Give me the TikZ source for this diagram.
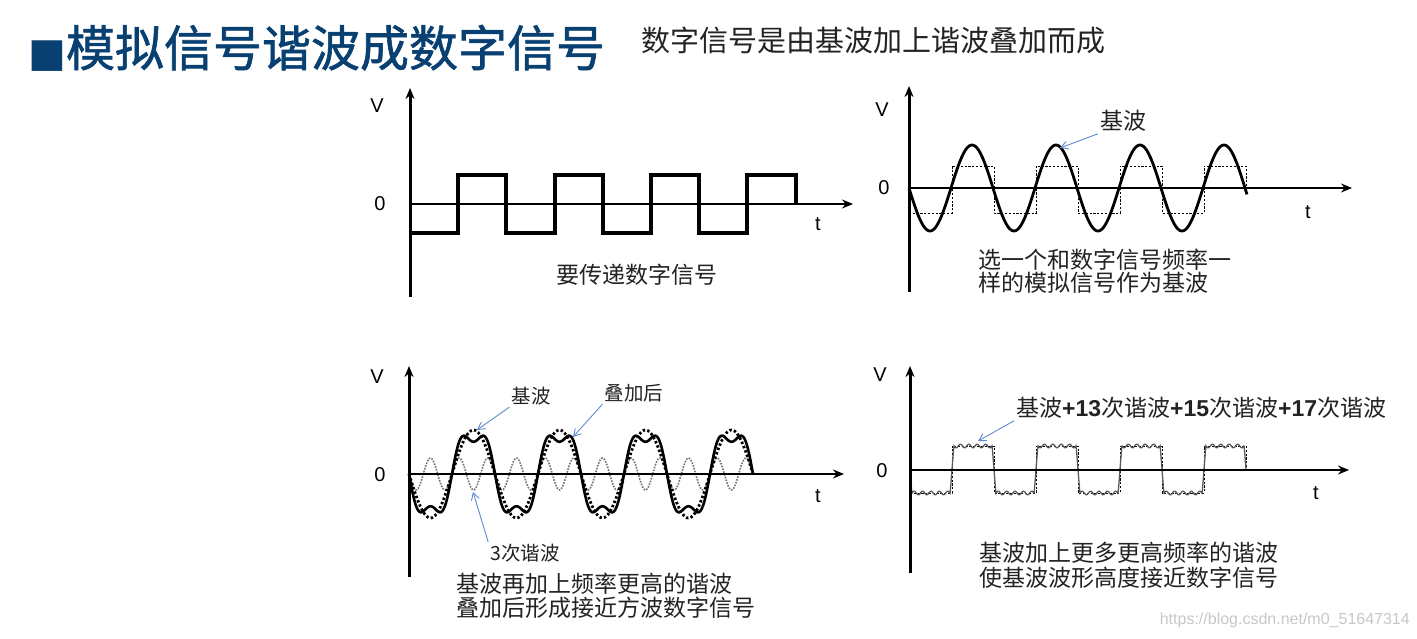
\documentclass[tikz,border=0pt]{standalone}
\usepackage{fontspec}
\setmainfont{Liberation Sans}
\newfontfamily\cjk{Noto Sans CJK SC}
\newfontfamily\cjkb[FakeBold=1.2]{Noto Sans CJK SC}
\newfontfamily\dvs{DejaVu Sans}
\usetikzlibrary{arrows.meta}
\definecolor{titleblue}{RGB}{8,64,114}
\definecolor{arrblue}{RGB}{95,140,205}
\definecolor{wmgray}{RGB}{200,200,200}
\definecolor{txt}{RGB}{35,35,35}
\newcommand\fsz[1]{\fontsize{#1}{#1}\selectfont}
\begin{document}
\begin{tikzpicture}[x=1pt,y=-1pt,
  axisline/.style={line width=3pt,-{Stealth[length=11pt,width=9pt]}},
  lbl/.style={font=\fsz{20},inner sep=0pt,text=black},
  captxt/.style={font=\cjk\fsz{23},inner sep=0pt,anchor=west,text=txt},
  callout/.style={font=\cjk\fsz{19.5},inner sep=2pt,text=txt},
  arr/.style={draw=arrblue,line width=0.9pt,-{Straight Barb[length=7pt,width=8pt]}},
  sqwave/.style={line width=3.4pt,line join=miter},
  sinewave/.style={line width=2.8pt},
  dsq/.style={line width=0.9pt,dash pattern=on 2.2pt off 1.6pt},
  fundwave/.style={line width=2.8pt,dash pattern=on 2.4pt off 2.2pt},
  harmwave/.style={line width=1.6pt,draw=black!55,dash pattern=on 1.6pt off 1.3pt},
  combwave/.style={line width=2.6pt},
  ripwave/.style={line width=1.3pt,draw=black!65}
]
\useasboundingbox (0,0) rectangle (1417,639);
\fill[white] (0,0) rectangle (1417,639);

% title
\node[anchor=west,inner sep=0pt,text=titleblue] (title) at (28,48)
  {{\dvs\fsz{40}■}{\cjkb\fsz{49}模拟信号谐波成数字信号}};
\node[anchor=west,inner sep=0pt,font=\cjk\fsz{29},text=txt] (subtitle) at (641,40)
  {数字信号是由基波加上谐波叠加而成};

% ---------- panel 1 ----------
\coordinate (p1o) at (410,297);
\coordinate (p1v) at (410,88);
\coordinate (p1a) at (410,204);
\coordinate (p1t) at (853,204);
\draw[axisline] (p1o) -- (p1v);
\draw[axisline,line width=2.6pt] (p1a) -- (p1t);
\node[lbl] (p1V) at (377,106) {V};
\node[lbl] (p1z) at (380,204) {0};
\node[lbl] (p1tl) at (818,224) {t};
\draw[sqwave] (410,233) -- (458,233) -- (458,175) -- (506,175) -- (506,233)
  -- (555,233) -- (555,175) -- (603,175) -- (603,233) -- (651,233) -- (651,175)
  -- (699,175) -- (699,233) -- (747,233) -- (747,175) -- (796,175) -- (796,204);
\node[captxt,anchor=center] (cap1) at (637,275) {要传递数字信号};

% ---------- panel 2 ----------
\coordinate (p2o) at (909,292);
\coordinate (p2v) at (909,86);
\coordinate (p2a) at (909,188);
\coordinate (p2t) at (1352,188);
\draw[dsq] (909,213) -- (952,213) -- (952,166) -- (994,166) -- (994,213)
  -- (1036,213) -- (1036,166) -- (1078,166) -- (1078,213) -- (1120,213)
  -- (1120,166) -- (1162,166) -- (1162,213) -- (1204,213) -- (1204,166)
  -- (1246,166) -- (1246,188);
\draw[sinewave] plot[domain=909:1247,samples=220,smooth] (\x,{188+43*sin(360*((\x-909)/84))});
\draw[axisline] (p2o) -- (p2v);
\draw[axisline,line width=2.6pt] (p2a) -- (p2t);
\node[lbl] (p2V) at (882,110) {V};
\node[lbl] (p2z) at (884,188) {0};
\node[lbl] (p2tl) at (1308,212) {t};
\node[callout,font=\cjk\fsz{23}] (lb2) at (1123,121) {基波};
\coordinate (t2) at (1060,148);
\draw[arr] (lb2.south west) -- (t2);
\node[captxt] (cap2a) at (978,260) {选一个和数字信号频率一};
\node[captxt] (cap2b) at (978,283) {样的模拟信号作为基波};

% ---------- panel 3 ----------
\coordinate (p3o) at (409,577);
\coordinate (p3v) at (409,366);
\coordinate (p3a) at (409,474);
\coordinate (p3t) at (844,474);
\draw[harmwave] plot[domain=409:753,samples=300] (\x,{474+16*sin(1080*((\x-409)/86))});
\draw[fundwave] plot[domain=409:753,samples=240] (\x,{474+44*sin(360*((\x-409)/86))});
\draw[combwave] plot[domain=409:753,samples=300,smooth] (\x,{474+43*(sin(360*((\x-409)/86))+0.25*sin(1080*((\x-409)/86)))});
\draw[axisline] (p3o) -- (p3v);
\draw[axisline,line width=2.6pt] (p3a) -- (p3t);
\node[lbl] (p3V) at (377,377) {V};
\node[lbl] (p3z) at (380,475) {0};
\node[lbl] (p3tl) at (818,496) {t};
\node[callout] (lbA) at (531,396) {基波};
\node[callout] (lbB) at (634,393) {叠加后};
\node[callout] (lbC) at (525,553) {3次谐波};
\coordinate (tA) at (477,430);
\coordinate (tB) at (573,437);
\coordinate (tC) at (473,492);
\draw[arr] (lbA.south west) -- (tA);
\draw[arr] (lbB.south west) -- (tB);
\draw[arr] (lbC.north west) -- (tC);
\node[captxt] (cap3a) at (456,584) {基波再加上频率更高的谐波};
\node[captxt] (cap3b) at (456,608) {叠加后形成接近方波数字信号};

% ---------- panel 4 ----------
\coordinate (p4o) at (910,573);
\coordinate (p4v) at (910,366);
\coordinate (p4a) at (910,470);
\coordinate (p4t) at (1349,470);
\draw[dsq] (910,493) -- (952,493) -- (952,446) -- (994,446) -- (994,493)
  -- (1036,493) -- (1036,446) -- (1078,446) -- (1078,493) -- (1120,493)
  -- (1120,446) -- (1162,446) -- (1162,493) -- (1204,493) -- (1204,446)
  -- (1246,446) -- (1246,470);
\draw[ripwave] plot[domain=910:1246,samples=1100]
  (\x,{469.5+(23.5+1.8*cos(1800*((\x-910)/42)))*max(-1,min(1,7*sin(180*((\x-910)/42))))});
\draw[axisline] (p4o) -- (p4v);
\draw[axisline,line width=2.4pt] (p4a) -- (p4t);
\node[lbl] (p4V) at (880,375) {V};
\node[lbl] (p4z) at (882,471) {0};
\node[lbl] (p4tl) at (1316,493) {t};
\node[callout,anchor=west,font=\cjk\fsz{23}] (lbD) at (1014,408)
  {基波\textbf{\fontspec{Liberation Sans}+13}次谐波\textbf{\fontspec{Liberation Sans}+15}次谐波\textbf{\fontspec{Liberation Sans}+17}次谐波};
\coordinate (tD) at (978,441);
\draw[arr] (lbD.south west) -- (tD);
\node[captxt] (cap4a) at (979,553) {基波加上更多更高频率的谐波};
\node[captxt] (cap4b) at (979,578) {使基波波形高度接近数字信号};

% watermark
\node[anchor=east,inner sep=0pt,font=\fsz{16},text=wmgray] (wm) at (1410,620)
  {https://blog.csdn.net/m0\_51647314};
\end{tikzpicture}
\end{document}
